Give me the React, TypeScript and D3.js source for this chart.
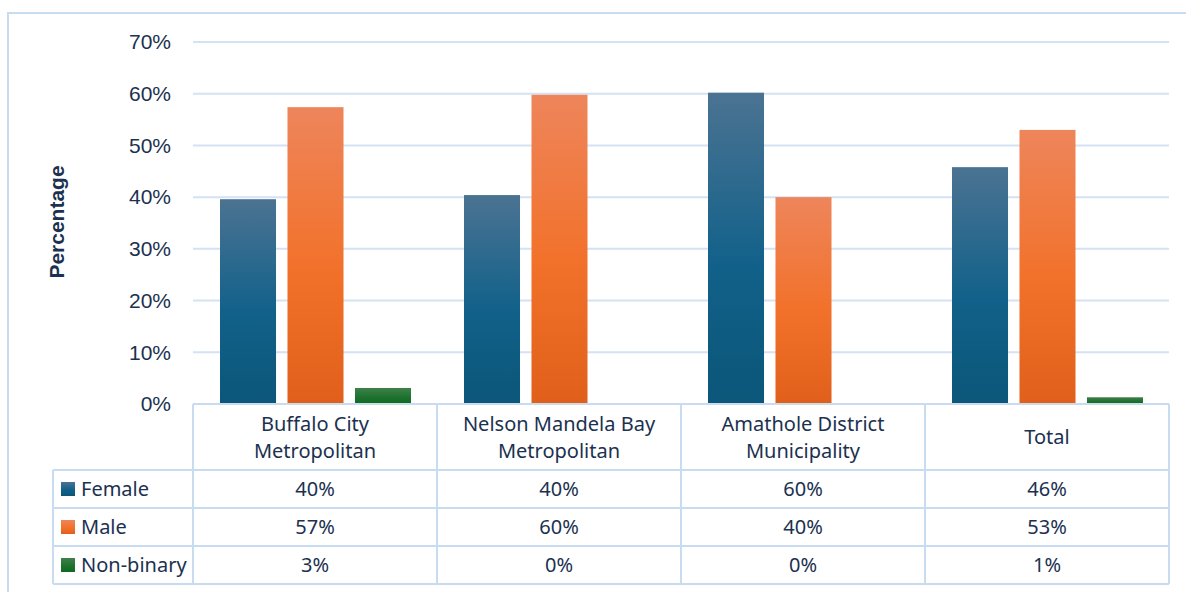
import React from "react";
import * as d3 from "d3";

const categories: string[][] = [
  ["Buffalo City", "Metropolitan"],
  ["Nelson Mandela Bay", "Metropolitan"],
  ["Amathole District", "Municipality"],
  ["Total"],
];
const seriesNames = ["Female", "Male", "Non-binary"];
const female = [0.396, 0.404, 0.602, 0.458];
const male = [0.574, 0.598, 0.4, 0.53];
const nonBinary = [0.031, 0, 0, 0.013];
const yTicks = [0, 0.1, 0.2, 0.3, 0.4, 0.5, 0.6, 0.7];

const W = 1186;
const H = 592;
const plotLeft = 193;
const plotRight = 1169;
const plotTop = 42;
const plotBottom = 404;
const rowH = 38;
const headerBottom = 470;
const legendLeft = 53;

const gridColor = "#d3e2f4";
const lineColor = "#c8dcf1";
const textColor = "#1b3150";
const tableFont = "Noto Sans, Open Sans, sans-serif";

const gradients = [
  { id: "gFemale", top: "#4b7392", mid: "#12618a", bottom: "#0b5679" },
  { id: "gMale", top: "#ee855b", mid: "#f2712a", bottom: "#e0601b" },
  { id: "gNon", top: "#40804c", mid: "#1f7230", bottom: "#0e6a1e" },
];

export default function App() {
  const series = [female, male, nonBinary];
  const y = d3.scaleLinear().domain([0, 0.7]).range([plotBottom, plotTop]);
  const x0 = d3
    .scaleBand<number>()
    .domain(categories.map((_, i) => i))
    .range([plotLeft, plotRight]);
  const x1 = d3
    .scaleBand<number>()
    .domain(seriesNames.map((_, i) => i))
    .range([27, x0.bandwidth() - 26])
    .paddingInner(0.17);
  const fmt = d3.format(".0%");
  const rowsTop = headerBottom;
  const tableBottom = rowsTop + rowH * seriesNames.length;
  const colEdges = categories.map((_, i) => x0(i)!).concat([plotRight]);

  return (
    <svg
      width={W}
      height={H}
      style={{ position: "absolute", left: 0, top: 0, background: "#fff" }}
    >
      <defs>
        {gradients.map((g) => (
          <linearGradient key={g.id} id={g.id} x1="0" y1="0" x2="0" y2="1">
            <stop offset="0" stopColor={g.top} />
            <stop offset="0.55" stopColor={g.mid} />
            <stop offset="1" stopColor={g.bottom} />
          </linearGradient>
        ))}
      </defs>
      <rect x={8} y={13} width={1300} height={700} fill="none" stroke={lineColor} strokeWidth={2} />

      {/* gridlines and y ticks */}
      {yTicks.map((t) => (
        <g key={t}>
          {t > 0 && (
            <line x1={plotLeft} x2={plotRight} y1={y(t)} y2={y(t)} stroke={gridColor} strokeWidth={2} />
          )}
          <text
            x={171}
            y={y(t)}
            dy="0.35em"
            textAnchor="end"
            fontFamily="Liberation Sans, Arial, sans-serif"
            fontSize={21}
            fill={textColor}
          >
            {fmt(t)}
          </text>
        </g>
      ))}

      <text
        transform={`translate(64,222) rotate(-90)`}
        textAnchor="middle"
        fontFamily="Liberation Sans, Arial, sans-serif"
        fontWeight="bold"
        fontSize={21}
        fill={textColor}
      >
        Percentage
      </text>

      {/* bars */}
      {categories.map((_, ci) => (
        <g key={ci} transform={`translate(${x0(ci)},0)`}>
          {series.map((s, si) =>
            s[ci] > 0 ? (
              <rect
                key={si}
                x={x1(si)}
                y={y(s[ci])}
                width={x1.bandwidth()}
                height={plotBottom - y(s[ci])}
                fill={`url(#${gradients[si].id})`}
              />
            ) : null
          )}
        </g>
      ))}

      {/* data table */}
      <g stroke={lineColor} strokeWidth={2} fill="none">
        <line x1={plotLeft} x2={plotRight} y1={plotBottom} y2={plotBottom} />
        {seriesNames.map((_, i) => (
          <line key={i} x1={legendLeft} x2={plotRight} y1={rowsTop + rowH * i} y2={rowsTop + rowH * i} />
        ))}
        <line x1={legendLeft} x2={plotRight} y1={tableBottom} y2={tableBottom} />
        <line x1={legendLeft} x2={legendLeft} y1={rowsTop} y2={tableBottom} />
        {colEdges.map((cx, i) => (
          <line key={i} x1={cx} x2={cx} y1={plotBottom} y2={tableBottom} />
        ))}
      </g>

      {categories.map((lines, ci) => {
        const cx = x0(ci)! + x0.bandwidth() / 2;
        const cy = (plotBottom + headerBottom) / 2;
        return (
          <text
            key={ci}
            x={cx}
            textAnchor="middle"
            fontFamily={tableFont}
            fontSize={20}
            fill={textColor}
          >
            {lines.map((l, li) => (
              <tspan key={li} x={cx} y={cy + (li - (lines.length - 1) / 2) * 27} dy="0.35em">
                {l}
              </tspan>
            ))}
          </text>
        );
      })}

      {seriesNames.map((name, si) => {
        const cy = rowsTop + rowH * si + rowH / 2;
        return (
          <g key={name}>
            <rect x={61} y={cy - 7} width={14} height={14} fill={`url(#${gradients[si].id})`} />
            <text x={81} y={cy} dy="0.35em" fontFamily={tableFont} fontSize={20} fill={textColor}>
              {name}
            </text>
            {series[si].map((v, ci) => (
              <text
                key={ci}
                x={x0(ci)! + x0.bandwidth() / 2}
                y={cy}
                dy="0.35em"
                textAnchor="middle"
                fontFamily={tableFont}
                fontSize={20}
                fill={textColor}
              >
                {fmt(v)}
              </text>
            ))}
          </g>
        );
      })}
    </svg>
  );
}
